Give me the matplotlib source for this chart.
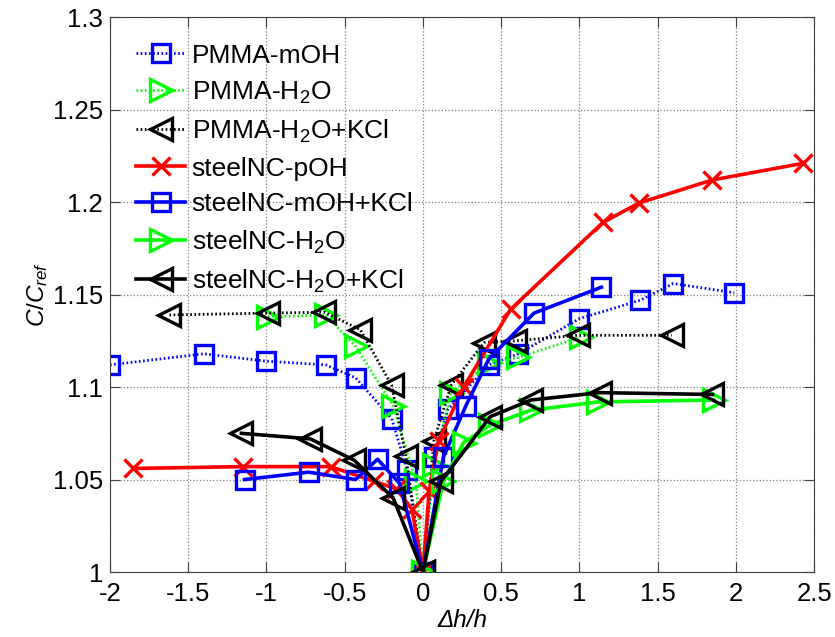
import numpy as np
import matplotlib.pyplot as plt

plt.rcParams['font.family'] = ['Liberation Sans', 'DejaVu Sans']
plt.rcParams['mathtext.fontset'] = 'custom'
plt.rcParams['mathtext.rm'] = 'Liberation Sans'
plt.rcParams['mathtext.it'] = 'Liberation Sans:italic'
plt.rcParams['mathtext.default'] = 'regular'

# PMMA series (dotted)
pmma_moh_x = [-2.0, -1.40, -1.00, -0.62, -0.43, -0.20, -0.10, 0.0, 0.07, 0.16, 0.42, 0.61, 1.00, 1.39, 1.60, 1.99]
pmma_moh_y = [1.112, 1.118, 1.114, 1.112, 1.105, 1.083, 1.055, 1.0, 1.062, 1.088, 1.112, 1.118, 1.137, 1.147, 1.156, 1.151]

pmma_h2o_x = [-0.99, -0.62, -0.43, -0.19, -0.045, 0.0, 0.07, 0.18, 0.42, 0.61, 1.01]
pmma_h2o_y = [1.138, 1.139, 1.122, 1.090, 1.049, 1.0, 1.058, 1.097, 1.113, 1.116, 1.127]

pmma_kcl_x = [-1.62, -0.99, -0.63, -0.40, -0.20, -0.11, 0.0, 0.07, 0.18, 0.39, 0.59, 0.99, 1.59]
pmma_kcl_y = [1.139, 1.140, 1.1405, 1.131, 1.101, 1.063, 1.0, 1.071, 1.101, 1.124, 1.125, 1.128, 1.128]

# steelNC series (solid)
steel_poh_x = [-1.85, -1.15, -0.59, -0.31, -0.17, -0.07, 0.0, 0.04, 0.10, 0.26, 0.56, 1.15, 1.38, 1.85, 2.43]
steel_poh_y = [1.056, 1.057, 1.057, 1.049, 1.045, 1.034, 1.0, 1.044, 1.071, 1.100, 1.142, 1.189, 1.1995, 1.212, 1.221]

steel_moh_x = [-1.14, -0.73, -0.43, -0.29, -0.15, 0.0, 0.13, 0.275, 0.42, 0.71, 1.14]
steel_moh_y = [1.050, 1.054, 1.050, 1.061, 1.048, 1.0, 1.062, 1.090, 1.115, 1.140, 1.154]

steel_h2o_x = [0.0, 0.13, 0.26, 0.43, 0.69, 1.12, 1.86]
steel_h2o_y = [1.0, 1.049, 1.070, 1.0795, 1.0875, 1.092, 1.093]

steel_kcl_x = [-1.16, -0.72, -0.44, -0.19, 0.0, 0.115, 0.43, 0.69, 1.13, 1.85]
steel_kcl_y = [1.075, 1.072, 1.0605, 1.040, 1.0, 1.049, 1.084, 1.093, 1.097, 1.096]

fig = plt.figure(figsize=(8.35, 6.37), dpi=100)
ax = fig.add_axes([0.1317, 0.102, 0.8433, 0.871])

dot = (0, (0.6, 0.9))
mk = dict(markerfacecolor='none', markeredgewidth=2.4)

ax.plot(pmma_moh_x, pmma_moh_y, color='blue', ls=dot, lw=2, marker='s', ms=12.5, label='PMMA-mOH', **mk)
ax.plot(pmma_h2o_x, pmma_h2o_y, color='#00ff00', ls=dot, lw=2, marker='>', ms=16, label='PMMA-H$_2$O', **mk)
ax.plot(pmma_kcl_x, pmma_kcl_y, color='black', ls=dot, lw=2, marker='<', ms=16, label='PMMA-H$_2$O+KCl', **mk)
ax.plot(steel_poh_x, steel_poh_y, color='red', ls='-', lw=2.6, marker='x', ms=13, label='steelNC-pOH', **mk)
ax.plot(steel_moh_x, steel_moh_y, color='blue', ls='-', lw=2.6, marker='s', ms=12.5, label='steelNC-mOH+KCl', **mk)
ax.plot(steel_h2o_x, steel_h2o_y, color='#00ff00', ls='-', lw=2.6, marker='>', ms=16, label='steelNC-H$_2$O', **mk)
ax.plot(steel_kcl_x, steel_kcl_y, color='black', ls='-', lw=2.6, marker='<', ms=16, label='steelNC-H$_2$O+KCl', **mk)

ax.set_xlim(-2, 2.5)
ax.set_ylim(1, 1.3)
ax.set_xticks(np.arange(-2, 2.51, 0.5))
ax.set_xticklabels(['-2', '-1.5', '-1', '-0.5', '0', '0.5', '1', '1.5', '2', '2.5'])
ax.set_yticks([1, 1.05, 1.1, 1.15, 1.2, 1.25, 1.3])
ax.set_yticklabels(['1', '1.05', '1.1', '1.15', '1.2', '1.25', '1.3'])
ax.tick_params(direction='in', length=7, labelsize=18.5, top=True, right=True, colors='#404040', labelcolor='black')
ax.tick_params(axis='x', pad=7)
ax.tick_params(axis='y', pad=5)
for s in ax.spines.values():
    s.set_color('#404040')
ax.grid(True, ls=':', color='#808080', lw=0.9)

ax.set_xlabel('Δh/h', fontsize=17.5, style='italic', labelpad=2)
ax.set_ylabel('$\\mathit{C/C_{ref}}$', fontsize=17.5, labelpad=2)

leg = ax.legend(loc='upper left', frameon=False, fontsize=19, handlelength=1.85,
                handletextpad=0.25, labelspacing=0.45, borderaxespad=0.6)

plt.savefig('out.png', dpi=100)
